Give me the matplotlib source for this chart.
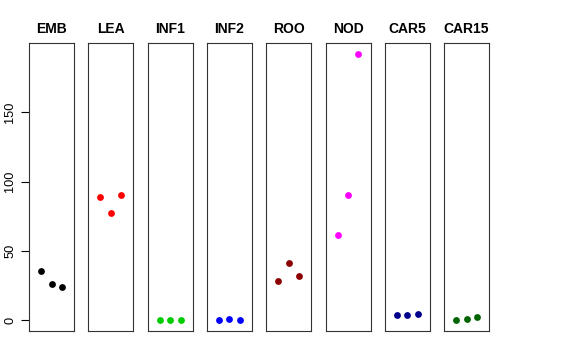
import matplotlib
matplotlib.use("Agg")
import matplotlib.pyplot as plt

groups = ["EMB", "LEA", "INF1", "INF2", "ROO", "NOD", "CAR5", "CAR15"]
values = {
    "EMB":   [35.8, 26.4, 23.8],
    "LEA":   [89.1, 77.6, 90.6],
    "INF1":  [0.1, 0.2, 0.4],
    "INF2":  [0.5, 0.9, 0.5],
    "ROO":   [28.3, 41.5, 31.7],
    "NOD":   [61.3, 90.1, 192.3],
    "CAR5":  [3.9, 3.7, 4.5],
    "CAR15": [0.7, 0.95, 2.4],
}
colors = ["#000000", "#FF0000", "#00CD00", "#0000FF", "#8B0000", "#FF00FF", "#00008B", "#006400"]
yticks = [0, 50, 100, 150]

plt.rcParams['font.family'] = ['Liberation Sans', 'DejaVu Sans']
W, H = 576, 360
fig = plt.figure(figsize=(W / 100, H / 100), dpi=100)

allv = [v for g in groups for v in values[g]]
lo, hi = min(allv), max(allv)
r = hi - lo
ylim = (lo - 0.04 * r, hi + 0.04 * r)

left0, step, pw = 29.0, 59.3, 45.0
top_px, bot_px = 43.0, 331.0
for i, (g, c) in enumerate(zip(groups, colors)):
    ax = fig.add_axes([(left0 + i * step) / W, (H - bot_px) / H, pw / W, (bot_px - top_px) / H])
    ax.scatter([1, 2, 3], values[g], s=24, color=c, linewidths=0)
    ax.set_xlim(-0.16, 4.16)
    ax.set_ylim(*ylim)
    ax.set_xticks([])
    ax.set_title(g, fontsize=10, fontweight='bold', pad=7)
    for sp in ax.spines.values():
        sp.set_linewidth(0.8)
        sp.set_color('#333333')
    if i == 0:
        ax.set_yticks(yticks)
        ax.set_yticklabels([str(t) for t in yticks], rotation=90, va='center', fontsize=9.2)
        ax.tick_params(axis='y', length=6, width=0.8, pad=3)
    else:
        ax.set_yticks([])

fig.savefig("out.png", dpi=100)
